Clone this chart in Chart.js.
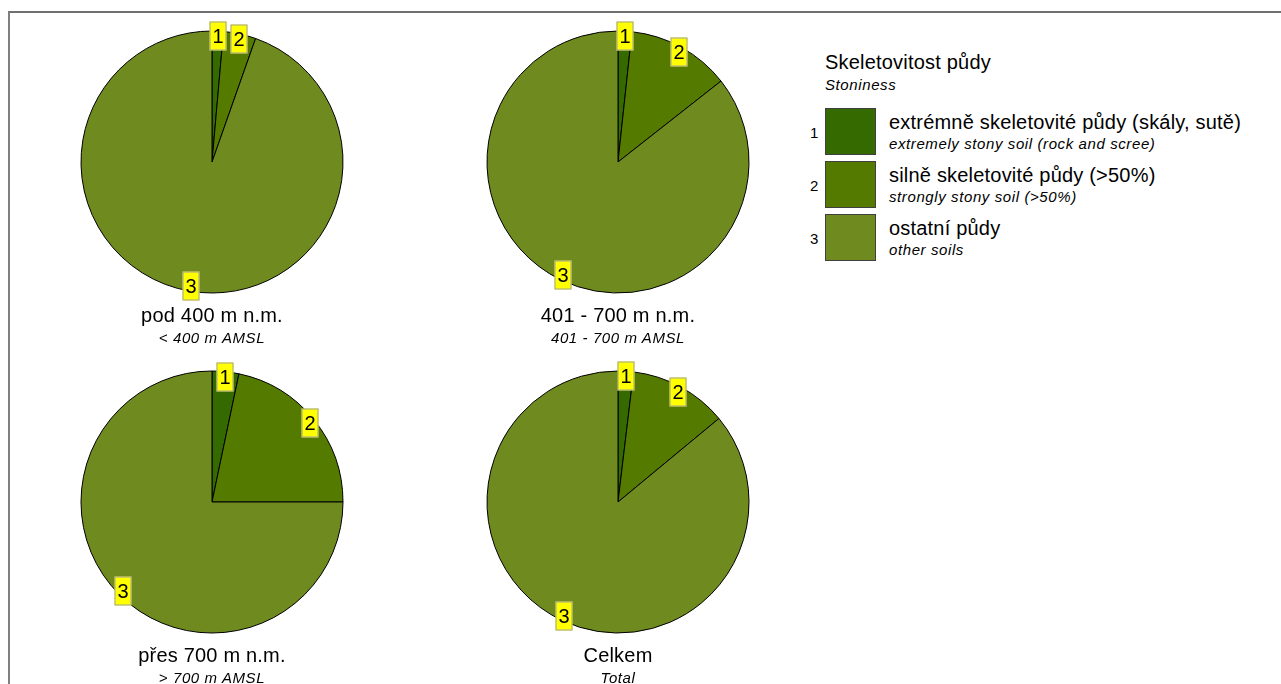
<!DOCTYPE html>
<html>
<head>
<meta charset="utf-8">
<script src="https://cdn.jsdelivr.net/npm/chart.js@4"></script>
<style>
    body { margin: 0; background: #fff; font-family: "Liberation Sans", Arial, sans-serif; color: #000; }
    #page { position: relative; width: 1281px; height: 684px; overflow: hidden; }
    .frame { position: absolute; left: 8px; top: 11px; width: 1300px; height: 700px;
             border-top: 2px solid #707070; border-left: 2px solid #808080; }
    .pie { position: absolute; width: 300px; height: 300px; }
    .txt { position: absolute; white-space: nowrap; }
    .main { font-size: 20px; line-height: 20px; letter-spacing: 0.2px; }
    .sub { font-size: 15px; line-height: 16px; font-style: italic; letter-spacing: 0.6px; }
    .num { font-size: 15px; line-height: 16px; }
    .center { width: 300px; text-align: center; }
    .swatch { position: absolute; width: 49px; height: 45px; border: 1px solid #404040; }
</style>
</head>
<body>
<div id="page">
    <div class="frame"></div>
</div>
<script>
// Data
const categories = ['1', '2', '3'];
const categoryCz = ['extrémně skeletovité půdy (skály, sutě)', 'silně skeletovité půdy (>50%)', 'ostatní půdy'];
const categoryEn = ['extremely stony soil (rock and scree)', 'strongly stony soil (>50%)', 'other soils'];
const colors = ['#356a00', '#557a00', '#6f8a1f'];

const groupsCz = ['pod 400 m n.m.', '401 - 700 m n.m.', 'přes 700 m n.m.', 'Celkem'];
const groupsEn = ['< 400 m AMSL', '401 - 700 m AMSL', '> 700 m AMSL', 'Total'];

const below400 = [1.4, 4.0, 94.6];
const from401to700 = [1.7, 12.7, 85.6];
const above700 = [3.3, 21.7, 75.0];
const total = [1.9, 12.1, 86.0];

const legendTitle = 'Skeletovitost půdy';
const legendSubtitle = 'Stoniness';

// Layout of the four pies (centers)
const pieSlots = [
    { cx: 212, cy: 162 },
    { cx: 618, cy: 162 },
    { cx: 212, cy: 502 },
    { cx: 618, cy: 502 }
];
const pieData = [below400, from401to700, above700, total];
const page = document.getElementById('page');

function addText(text, cls, left, top) {
    const d = document.createElement('div');
    d.className = 'txt ' + cls;
    d.textContent = text;
    d.style.left = left + 'px';
    d.style.top = top + 'px';
    page.appendChild(d);
    return d;
}

// Yellow number boxes at slice edges
const sliceLabels = {
    id: 'sliceLabels',
    afterDatasetsDraw(chart) {
        const ctx = chart.ctx;
        const meta = chart.getDatasetMeta(0);
        ctx.save();
        ctx.font = '20px "Liberation Sans", Arial, sans-serif';
        ctx.textAlign = 'center';
        ctx.textBaseline = 'middle';
        meta.data.forEach((arc, i) => {
            const p = arc.getProps(['x', 'y', 'startAngle', 'endAngle', 'outerRadius'], true);
            const mid = (p.startAngle + p.endAngle) / 2;
            const r = p.outerRadius * 0.96;
            const x = Math.round(p.x + Math.cos(mid) * r);
            const y = Math.round(p.y + Math.sin(mid) * r);
            const w = 17, h = 29;
            ctx.fillStyle = '#ffff00';
            ctx.fillRect(x - w / 2, y - h / 2, w, h);
            ctx.strokeStyle = '#a0a0a0';
            ctx.lineWidth = 1;
            ctx.strokeRect(x - w / 2 + 0.5, y - h / 2 + 0.5, w - 1, h - 1);
            ctx.fillStyle = '#000';
            ctx.fillText(chart.data.labels[i], x, y + 1);
        });
        ctx.restore();
    }
};

pieSlots.forEach((slot, k) => {
    const canvas = document.createElement('canvas');
    canvas.className = 'pie';
    canvas.style.left = (slot.cx - 150) + 'px';
    canvas.style.top = (slot.cy - 150) + 'px';
    page.appendChild(canvas);

    new Chart(canvas, {
        type: 'pie',
        data: {
            labels: categories,
            datasets: [{
                data: pieData[k],
                backgroundColor: colors,
                borderColor: '#000',
                borderWidth: 1
            }]
        },
        options: {
            responsive: false,
            animation: false,
            radius: 131,
            layout: { padding: 0 },
            events: [],
            plugins: {
                legend: { display: false },
                tooltip: { enabled: false }
            }
        },
        plugins: [sliceLabels]
    });

    addText(groupsCz[k], 'main center', slot.cx - 150, slot.cy + 143);
    addText(groupsEn[k], 'sub center', slot.cx - 150, slot.cy + 168);
});

// Legend
addText(legendTitle, 'main', 825, 52);
addText(legendSubtitle, 'sub', 825, 77);
const swatchTops = [108, 161, 214];
categories.forEach((c, i) => {
    const top = swatchTops[i];
    const sw = document.createElement('div');
    sw.className = 'swatch';
    sw.style.left = '825px';
    sw.style.top = top + 'px';
    sw.style.background = colors[i];
    page.appendChild(sw);
    addText(c, 'num', 810, top + 17);
    addText(categoryCz[i], 'main', 889, top + 4);
    addText(categoryEn[i], 'sub', 889, top + 28);
});
</script>
</body>
</html>
